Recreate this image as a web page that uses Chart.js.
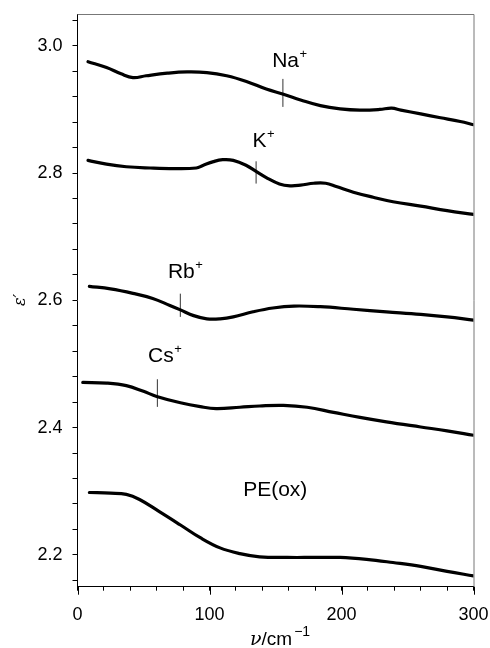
<!DOCTYPE html>
<html>
<head>
<meta charset="utf-8">
<script src="https://cdn.jsdelivr.net/npm/chart.js@4.4.1/dist/chart.umd.min.js"></script>
<style>
  html, body { margin: 0; padding: 0; background: #fff; }
  #wrap { width: 490px; height: 648px; position: relative; }
</style>
</head>
<body>
<div id="wrap"><canvas id="epsChart"></canvas></div>
<script>
// wavenumber (cm-1) and permittivity
const naNu = [8, 22, 33, 42, 52, 68, 83, 98, 113, 128, 143, 156, 169, 184, 199, 214, 229, 238, 245, 260, 275, 290, 300];
const naEps = [2.975, 2.966, 2.956, 2.950, 2.953, 2.957, 2.959, 2.958, 2.953, 2.944, 2.932, 2.924, 2.915, 2.906, 2.901, 2.899, 2.900, 2.902, 2.899, 2.893, 2.887, 2.881, 2.876];

const kNu = [8, 22, 37, 55, 73, 90, 95, 103, 110, 118, 128, 135, 143, 153, 161, 169, 179, 188, 196, 209, 224, 239, 260, 280, 300];
const kEps = [2.820, 2.814, 2.810, 2.808, 2.807, 2.808, 2.812, 2.818, 2.821, 2.820, 2.812, 2.803, 2.793, 2.783, 2.780, 2.781, 2.784, 2.784, 2.779, 2.770, 2.762, 2.755, 2.748, 2.741, 2.735];

const rbNu = [9, 25, 42, 57, 70, 78, 88, 98, 108, 118, 133, 148, 164, 184, 209, 234, 260, 280, 300];
const rbEps = [2.622, 2.618, 2.611, 2.603, 2.592, 2.585, 2.576, 2.571, 2.571, 2.574, 2.582, 2.588, 2.591, 2.590, 2.586, 2.582, 2.578, 2.574, 2.569];

const csNu = [4, 22, 37, 50, 60, 78, 93, 105, 123, 138, 156, 174, 194, 214, 234, 260, 280, 300];
const csEps = [2.471, 2.470, 2.466, 2.457, 2.449, 2.439, 2.433, 2.430, 2.432, 2.434, 2.435, 2.432, 2.424, 2.416, 2.409, 2.401, 2.395, 2.388];

const peNu = [9, 25, 37, 47, 62, 78, 93, 108, 123, 138, 159, 179, 199, 219, 239, 260, 280, 300];
const peEps = [2.298, 2.297, 2.295, 2.287, 2.268, 2.247, 2.227, 2.211, 2.202, 2.197, 2.196, 2.196, 2.196, 2.193, 2.188, 2.182, 2.174, 2.167];

// short vertical markers on the curves (Na, K, Rb, Cs)
const markerNu = [155.6, 135.3, 77.9, 60.5];
const markerLow = [2.904, 2.7835, 2.574, 2.4326];
const markerHigh = [2.948, 2.8185, 2.6105, 2.476];

// curve labels
const labelText = ['Na', 'K', 'Rb', 'Cs', 'PE(ox)'];
const labelSup = ['+', '+', '+', '+', ''];
const labelNu = [147.5, 132.5, 68.5, 53.5, 125.5];
const labelEps = [2.967, 2.841, 2.635, 2.5035, 2.292];

// axis ticks
const xTicks = [0, 20, 40, 60, 80, 100, 120, 140, 160, 180, 200, 220, 240, 260, 280, 300];
const xLabels = [0, 100, 200, 300];
const yTicks = [2.16, 2.2, 2.24, 2.28, 2.32, 2.36, 2.4, 2.44, 2.48, 2.52, 2.56, 2.6, 2.64, 2.68, 2.72, 2.76, 2.8, 2.84, 2.88, 2.92, 2.96, 3.0, 3.04];
const yLabels = [2.2, 2.4, 2.6, 2.8, 3.0];

const FONT = "'Liberation Sans', Arial, Helvetica, sans-serif";

function pairs(xs, ys) {
  return xs.map((x, i) => ({ x: x, y: ys[i] }));
}

function curve(xs, ys) {
  return {
    data: pairs(xs, ys),
    borderColor: '#000',
    borderWidth: 3.2,
    pointRadius: 0,
    tension: 0.4,
    fill: false,
    borderCapStyle: 'round'
  };
}

const datasets = [
  curve(naNu, naEps),
  curve(kNu, kEps),
  curve(rbNu, rbEps),
  curve(csNu, csEps),
  curve(peNu, peEps)
];
for (let i = 0; i < markerNu.length; i++) {
  datasets.push({
    data: [{ x: markerNu[i], y: markerLow[i] }, { x: markerNu[i], y: markerHigh[i] }],
    borderColor: '#333',
    borderWidth: 1,
    pointRadius: 0,
    tension: 0
  });
}

// frame, long major ticks, labels and axis titles
const decorations = {
  id: 'decorations',
  afterDraw(chart) {
    const ctx = chart.ctx;
    const a = chart.chartArea;
    const xs = chart.scales.x;
    const ys = chart.scales.y;
    ctx.save();

    // top and right frame
    ctx.strokeStyle = '#777';
    ctx.lineWidth = 1;
    ctx.beginPath();
    ctx.moveTo(a.left, a.top + 0.5);
    ctx.lineTo(a.right + 0.5, a.top + 0.5);
    ctx.lineTo(a.right + 0.5, a.bottom);
    ctx.stroke();

    // longer ticks at labelled x values
    ctx.strokeStyle = '#000';
    xLabels.forEach(v => {
      const px = Math.round(xs.getPixelForValue(v)) + 0.5;
      ctx.beginPath();
      ctx.moveTo(px, a.bottom);
      ctx.lineTo(px, a.bottom + 8);
      ctx.stroke();
    });

    // curve labels with superscript
    ctx.fillStyle = '#000';
    ctx.textBaseline = 'alphabetic';
    ctx.textAlign = 'left';
    for (let i = 0; i < labelText.length; i++) {
      const px = xs.getPixelForValue(labelNu[i]);
      const py = ys.getPixelForValue(labelEps[i]);
      ctx.font = '21px ' + FONT;
      ctx.fillText(labelText[i], px, py);
      if (labelSup[i]) {
        const w = ctx.measureText(labelText[i]).width;
        ctx.font = '13px ' + FONT;
        ctx.fillText(labelSup[i], px + w + 0.5, py - 9);
      }
    }

    // x axis title: nu/cm^-1
    let tx = 250;
    const ty = 645;
    ctx.font = "italic 19px 'DejaVu Serif', serif";
    ctx.fillText('\u03BD', tx, ty);
    tx += ctx.measureText('\u03BD').width;
    ctx.font = '19px ' + FONT;
    ctx.fillText('/cm', tx, ty);
    tx += ctx.measureText('/cm').width + 2;
    ctx.font = '14px ' + FONT;
    ctx.fillText('\u22121', tx, ty - 9);

    // y axis title: epsilon prime
    ctx.translate(20, 300);
    ctx.rotate(-Math.PI / 2);
    ctx.textAlign = 'center';
    ctx.font = "italic 16px 'DejaVu Serif', serif";
    ctx.fillText('\u03B5\u2032', 0, 5);

    ctx.restore();
  }
};

new Chart(document.getElementById('epsChart'), {
  type: 'line',
  data: { datasets: datasets },
  options: {
    responsive: true,
    maintainAspectRatio: false,
    animation: false,
    events: [],
    layout: { padding: { top: 14, right: 16.5, left: 0, bottom: 0 } },
    plugins: {
      legend: { display: false },
      tooltip: { enabled: false }
    },
    scales: {
      x: {
        type: 'linear',
        min: 0,
        max: 300,
        afterBuildTicks: s => { s.ticks = xTicks.map(v => ({ value: v })); },
        afterFit: s => { s.height = 61.3; s.paddingLeft = 0; s.paddingRight = 0; },
        border: { display: true, color: '#000', width: 1 },
        grid: { drawOnChartArea: false, drawTicks: true, tickLength: 4, color: '#000' },
        ticks: {
          autoSkip: false,
          maxRotation: 0,
          padding: 14,
          color: '#000',
          font: { family: FONT, size: 18 },
          callback: v => (xLabels.includes(v) ? String(v) : '')
        }
      },
      y: {
        type: 'linear',
        min: 2.15,
        max: 3.05,
        afterBuildTicks: s => { s.ticks = yTicks.map(v => ({ value: v })); },
        afterFit: s => { s.width = 77.5; s.paddingTop = 0; s.paddingBottom = 0; },
        border: { display: true, color: '#000', width: 1 },
        grid: { drawOnChartArea: false, drawTicks: true, tickLength: 5, color: '#000' },
        ticks: {
          autoSkip: false,
          padding: 10,
          color: '#000',
          font: { family: FONT, size: 18 },
          callback: v => (yLabels.some(l => Math.abs(l - v) < 1e-6) ? v.toFixed(1) : '')
        }
      }
    }
  },
  plugins: [decorations]
});
</script>
</body>
</html>
